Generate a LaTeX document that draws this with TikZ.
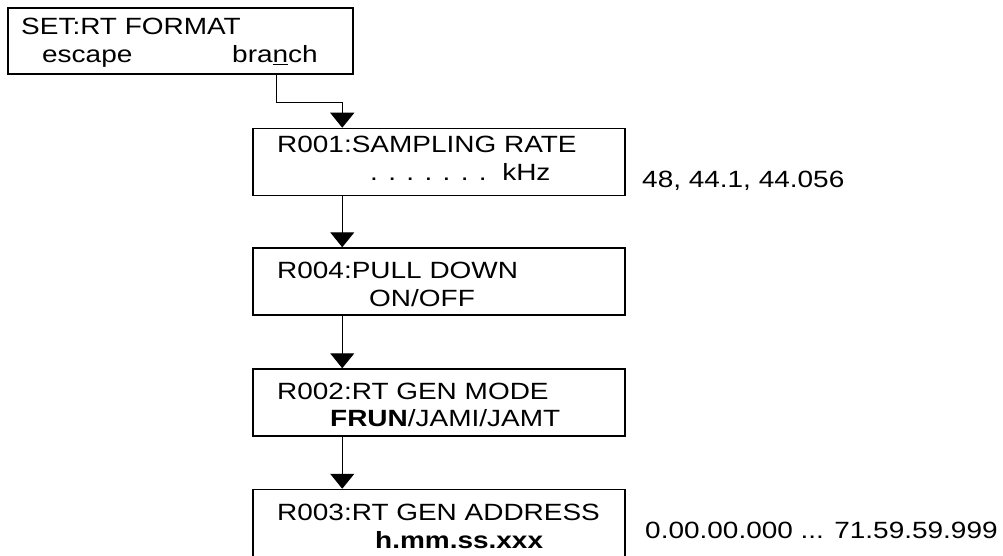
\documentclass[tikz,border=0pt]{standalone}
\usepackage{fontspec}
\setmainfont{Liberation Sans}
\newfontfamily\disp[FakeStretch=1.19]{Liberation Sans}
\usetikzlibrary{arrows.meta}
\begin{document}
\begin{tikzpicture}[x=1pt,y=-1pt,
  box/.style={draw,line width=1.5pt,rectangle,inner sep=0pt,minimum width=372pt,minimum height=67pt},
  topbox/.style={draw,line width=2.4pt,rectangle,inner sep=0pt,minimum width=345pt,minimum height=66pt},
  txt/.style={inner sep=0pt,anchor=base west,font=\disp\fontsize{23.5}{28}\selectfont},
  toptxt/.style={inner sep=0pt,anchor=base west,font=\disp\fontsize{23.5}{28}\selectfont},
  conn/.style={line width=1.1pt,-{Triangle[width=24pt,length=15pt]}}]
\useasboundingbox (0,0) rectangle (1003,556);
% boxes
\node[topbox] (b0) at (180.5,41) {};
\node[box] (b1) at (439,162) {};
\node[box] (b2) at (439,281.5) {};
\node[box] (b3) at (439,402.5) {};
\node[box] (b4) at (439,523) {};
% top box texts
\node[toptxt] (s1) at (21,35) {SET:RT FORMAT};
\node[toptxt] (s2) at (42,63) {escape};
\node[toptxt] (s3) at (232,63) {bra\underline{n}ch};
% box texts
\node[txt] (t1a) at (277,153) {R001:SAMPLING RATE};
\node[txt] (t1b) at (370,181) {. . . . . . .\ \ kHz};
\node[txt] (t2a) at (277,278) {R004:PULL DOWN};
\node[txt] (t2b) at (369,306) {ON/OFF};
\node[txt] (t3a) at (277,399) {R002:RT GEN MODE};
\node[txt] (t3b) at (330,426) {\textbf{FRUN}/JAMI/JAMT};
\node[txt] (t4a) at (277,520) {R003:RT GEN ADDRESS};
\node[txt] (t4b) at (375,548) {\textbf{h.mm.ss.xxx}};
% side labels
\node[txt] (l1) at (642,188) {48, 44.1, 44.056};
\node[txt] (l2) at (645,538) {0.00.00.000 ... 71.59.59.999};
% connectors
\coordinate (c0) at ([xshift=270pt]b0.south west);
\draw[conn] (c0) -- ++(0,27) -| ([xshift=90pt]b1.north west);
\draw[conn] ([xshift=90pt]b1.south west) -- ([xshift=90pt]b2.north west);
\draw[conn] ([xshift=90pt]b2.south west) -- ([xshift=90pt]b3.north west);
\draw[conn] ([xshift=90pt]b3.south west) -- ([xshift=90pt]b4.north west);
\end{tikzpicture}
\end{document}
